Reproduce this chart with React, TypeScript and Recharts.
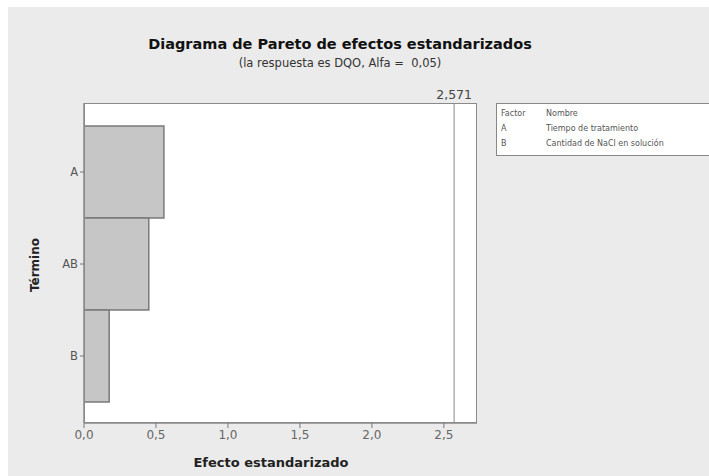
import React from "react";
import { BarChart, Bar, XAxis, YAxis, ReferenceLine } from "recharts";

// terms ordered as in the Pareto chart (largest effect on top)
const terms = ["A", "AB", "B"];
const effects = [0.555, 0.45, 0.175];
const xTicks = [0, 0.5, 1, 1.5, 2, 2.5];
const criticalValue = 2.571;
const legendRows = [
  ["Factor", "Nombre"],
  ["A", "Tiempo de tratamiento"],
  ["B", "Cantidad de NaCl en solución"],
];

const data = terms.map((t, i) => ({ term: t, effect: effects[i] }));
const fmt = (v: number) => v.toFixed(1).replace(".", ",");
const font = "'DejaVu Sans', Verdana, sans-serif";

export default function App() {
  return (
    <div style={{ position: "absolute", left: 0, top: 0, width: 709, height: 476, background: "#fff", overflow: "hidden" }}>
      <div style={{ position: "absolute", left: 8, top: 7, width: 701, height: 469, background: "#ebebeb" }} />
      {/* plot frame behind the svg */}
      <div style={{ position: "absolute", left: 84, top: 103, width: 393, height: 320, background: "#fff", border: "1.5px solid #8a8a8a", boxSizing: "border-box" }} />
      <div style={{ position: "absolute", left: 0, top: 36, width: 680, textAlign: "center", fontFamily: font, fontWeight: "bold", fontSize: 14.5, color: "#111" }}>
        Diagrama de Pareto de efectos estandarizados
      </div>
      <div style={{ position: "absolute", left: 0, top: 56, width: 680, textAlign: "center", fontFamily: font, fontSize: 11.5, color: "#333", whiteSpace: "pre" }}>
        (la respuesta es DQO, Alfa =  0,05)
      </div>
      <div style={{ position: "absolute", left: 0, top: 0 }}>
        <BarChart
          width={709}
          height={476}
          data={data}
          layout="vertical"
          barCategoryGap={0}
          margin={{ top: 103, right: 232, bottom: 23, left: 50 }}
        >
          <XAxis
            type="number"
            domain={[0, 2.73]}
            ticks={xTicks}
            tickFormatter={fmt}
            allowDataOverflow
            height={30}
            tick={{ fill: "#666", fontSize: 12, fontFamily: font }}
            tickLine={{ stroke: "#777" }}
            axisLine={{ stroke: "#8a8a8a", strokeWidth: 1.5 }}
            tickSize={5}
          />
          <YAxis
            type="category"
            dataKey="term"
            width={34}
            padding={{ top: 23, bottom: 21 }}
            tick={{ fill: "#555", fontSize: 11.5, fontFamily: font }}
            tickLine={{ stroke: "#777" }}
            axisLine={{ stroke: "#8a8a8a", strokeWidth: 1.5 }}
            tickSize={4}
          />
          <Bar dataKey="effect" fill="#c6c6c6" stroke="#7a7a7a" strokeWidth={1.5} isAnimationActive={false} />
          <ReferenceLine
            x={criticalValue}
            stroke="#8a8a8a"
            strokeWidth={1}
            label={{ value: "2,571", position: "top", fill: "#444", fontSize: 12.5, fontFamily: font, offset: 4 }}
          />
        </BarChart>
      </div>
      <div style={{ position: "absolute", left: 0, top: 455, width: 542, textAlign: "center", fontFamily: font, fontWeight: "bold", fontSize: 13, color: "#222" }}>
        Efecto estandarizado
      </div>
      <div style={{ position: "absolute", left: 35, top: 265, transform: "translate(-50%, -50%) rotate(-90deg)", fontFamily: font, fontWeight: "bold", fontSize: 12, color: "#222", whiteSpace: "nowrap" }}>
        Término
      </div>
      <div style={{ position: "absolute", left: 496, top: 103, width: 215, height: 53, border: "1px solid #888", background: "#fff", fontFamily: font, fontSize: 8, color: "#555", boxSizing: "border-box" }}>
        {legendRows.map((r, i) => (
          <div key={i} style={{ position: "absolute", top: 5 + i * 15, left: 4, whiteSpace: "nowrap" }}>
            <span style={{ display: "inline-block", width: 45 }}>{r[0]}</span>
            <span>{r[1]}</span>
          </div>
        ))}
      </div>
    </div>
  );
}
